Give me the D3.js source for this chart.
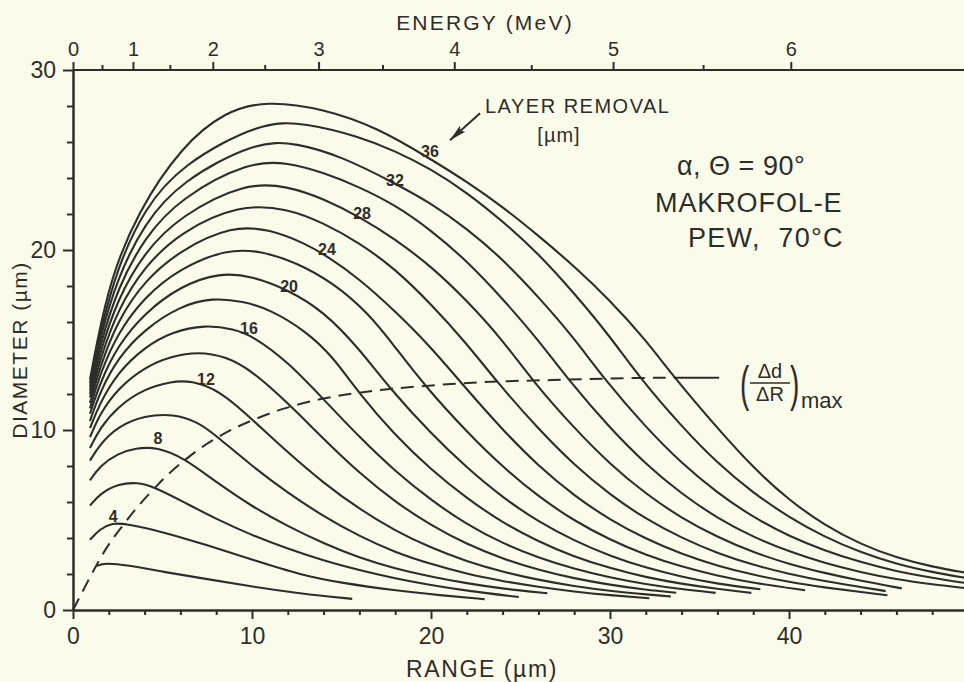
<!DOCTYPE html>
<html>
<head>
<meta charset="utf-8">
<script src="https://cdn.jsdelivr.net/npm/d3@7"></script>
<style>
    html, body { margin: 0; padding: 0; background: #fbfbec; }
    svg { display: block; }
    text { font-family: "Liberation Sans", Arial, sans-serif; fill: #2e2e28; }
    .axis path, .axis line { stroke: #2e2e28; stroke-width: 2; }
    .axis text { font-size: 23px; fill: #2e2e28; }
</style>
</head>
<body>
<div id="chart"></div>
<script>
// Axis ticks
const rangeTicks = [0, 10, 20, 30, 40];
const rangeMinor = [2, 4, 6, 8, 12, 14, 16, 18, 22, 24, 26, 28, 32, 34, 36, 38, 42, 44, 46, 48];
const diamTicks = [0, 10, 20, 30];
const diamMinor = [2, 4, 6, 8, 12, 14, 16, 18, 22, 24, 26, 28];

// Energy (MeV) vs range (um)
const energyMeV = [0, 0.5, 1, 1.5, 2, 2.5, 3, 3.5, 4, 4.5, 5, 5.5, 6];
const energyRange = [0, 1.62, 3.35, 5.41, 7.81, 10.71, 13.72, 17.29, 21.3, 25.6, 30.17, 35.2, 40.1];
const energyMajor = [0, 1, 2, 3, 4, 5, 6];
const energyMinor = [0.5, 1.5, 2.5, 3.5, 4.5, 5.5];

// Layer removal (um) for each curve
const layers = [2, 4, 6, 8, 10, 12, 14, 16, 18, 20, 22, 24, 26, 28, 30, 32, 34, 36];

// Curves: [range um, diameter um]
const curve2 = [[1.3,2.45],[1.8,2.62],[3,2.5],[5,2.12],[7.5,1.72],[10,1.3],[12.7,0.92],[14,0.78],[15.6,0.62]];
const curve4 = [[0.95,3.9],[1.5,4.5],[2.2,4.85],[3,4.78],[5,4.35],[7.5,3.6],[10,2.8],[12.7,1.95],[15,1.5],[18,1.08],[20.5,0.82],[23,0.6]];
const curve6 = [[0.95,5.8],[1.5,6.45],[2.5,7.0],[3.6,7.1],[4.5,6.85],[6,6.1],[8,5.05],[10,4.15],[12,3.4],[14,2.75],[16,2.2],[18,1.75],[20,1.38],[22,1.07],[24.9,0.72]];
const curve8 = [[0.95,7.2],[1.5,8.0],[2.5,8.7],[3.5,9.0],[4.7,9.05],[6.2,8.45],[8,7.1],[10,5.75],[12,4.65],[14,3.7],[16,2.9],[18,2.3],[20,1.85],[22,1.48],[24,1.18],[26.5,0.93]];
const curve10 = [[0.95,8.3],[1.5,9.2],[2.5,10.2],[4,10.8],[5.6,10.9],[7,10.45],[8.1,9.6],[10,8.0],[12,6.5],[14,5.2],[16,4.1],[18,3.2],[20,2.55],[22,2.0],[24,1.6],[26,1.28],[28,1.02],[30,0.82],[32.2,0.65]];
const curve12 = [[0.95,9.0],[1.5,10.1],[2.5,11.3],[4,12.3],[5.5,12.7],[6.6,12.75],[8.2,12.2],[10,10.6],[12,8.75],[14,7.05],[16,5.6],[18,4.4],[20,3.45],[22,2.7],[24,2.12],[26,1.67],[28,1.32],[30,1.05],[33.4,0.75]];
const curve14 = [[0.95,9.6],[1.5,10.9],[2.5,12.3],[4,13.5],[5.5,14.1],[7,14.35],[8.5,14.1],[10,13.3],[12,11.5],[14,9.5],[16,7.6],[18,6.0],[20,4.7],[22,3.65],[24,2.85],[26,2.22],[28,1.75],[30,1.4],[32,1.12],[33.7,0.96]];
const curve16 = [[0.95,10.1],[1.5,11.5],[2.5,13.2],[4,14.6],[5.5,15.45],[7.4,15.85],[9,15.6],[10,15.25],[12,13.8],[14,11.7],[16,9.6],[18,7.7],[20,6.1],[22,4.75],[24,3.7],[26,2.9],[28,2.28],[30,1.8],[32,1.43],[34,1.15],[35.9,0.95]];
const curve18 = [[0.95,10.5],[1.5,12.1],[2.5,14.0],[4,15.6],[6,16.9],[7.8,17.35],[9.5,17.15],[11,16.7],[13,15.5],[14.5,14.1],[16,12.0],[18,9.7],[20,7.8],[22,6.2],[24,4.85],[26,3.8],[28,2.95],[30,2.32],[32,1.82],[34,1.45],[36,1.17],[37.9,0.95]];
const curve20 = [[0.95,10.9],[1.5,12.6],[2.5,14.7],[4,16.5],[6,18.0],[8.2,18.75],[10,18.55],[12,17.8],[14,16.6],[16,14.5],[17.7,12.3],[20,9.8],[22,7.9],[24,6.25],[26,4.9],[28,3.85],[30,3.0],[32,2.35],[34,1.85],[36,1.45],[38.4,1.15]];
const curve22 = [[0.95,11.2],[1.5,13.1],[2.5,15.4],[4,17.4],[6,19.0],[8.6,20.05],[10.5,19.95],[12.5,19.3],[14.5,18.2],[16.5,16.5],[18,14.6],[19.7,12.4],[22,9.9],[24,7.95],[26,6.3],[28,4.95],[30,3.9],[32,3.05],[34,2.4],[36,1.9],[38,1.5],[40.9,1.1]];
const curve24 = [[0.95,11.5],[1.5,13.5],[2.5,16.1],[4,18.3],[6,20.0],[8.9,21.35],[11,21.15],[13,20.35],[14.2,19.65],[16,18.4],[18,16.6],[20,14.6],[21.7,12.6],[24,10.0],[26,8.0],[28,6.35],[30,5.0],[32,3.95],[34,3.1],[36,2.45],[38,1.95],[40,1.55],[42,1.25],[44,1.0],[45.5,0.82]];
const curve26 = [[0.95,11.8],[1.5,13.9],[2.5,16.7],[4,19.1],[6,21.0],[9.3,22.55],[12,22.3],[14,21.5],[16,20.4],[18,18.95],[20,17.0],[22,14.8],[23.7,12.65],[26,10.05],[28,8.05],[30,6.4],[32,5.05],[34,4.0],[36,3.15],[38,2.5],[40,2.0],[42,1.6],[44,1.28],[45.4,1.05]];
const curve28 = [[0.95,12.0],[1.5,14.3],[2.5,17.3],[4,19.9],[6,21.9],[9.6,23.75],[12,23.55],[14,22.85],[16.1,21.8],[18,20.6],[20,19.1],[22,17.2],[24,15.0],[25.7,12.7],[28,10.1],[30,8.1],[32,6.45],[34,5.1],[36,4.05],[38,3.2],[40,2.55],[42,2.05],[44,1.62],[46.3,1.2]];
const curve30 = [[0.95,12.2],[1.5,14.7],[2.5,17.9],[4,20.7],[6,22.9],[9.9,24.95],[12,24.85],[14,24.3],[16,23.5],[18,22.5],[20,21.1],[22,19.4],[24,17.3],[26,15.0],[27.7,12.75],[30,10.1],[32,8.1],[34,6.45],[36,5.1],[38,4.05],[40,3.25],[42,2.6],[44,2.1],[46,1.7],[48,1.42],[50,1.2]];
const curve32 = [[0.95,12.4],[1.5,15.1],[2.5,18.5],[4,21.5],[6,23.8],[10.2,26.05],[12.5,25.95],[15,25.2],[18,23.7],[20,22.6],[22,21.2],[24,19.5],[26,17.4],[28,15.1],[29.7,12.8],[32,10.15],[34,8.15],[36,6.5],[38,5.15],[40,4.1],[42,3.3],[44,2.65],[46,2.15],[48,1.78],[50,1.48]];
const curve34 = [[0.95,12.6],[1.5,15.4],[2.5,19.1],[4,22.3],[6,24.7],[10.5,27.15],[13,27.05],[16,26.3],[18,25.5],[20,24.5],[22,23.2],[24,21.6],[26,19.8],[28,17.6],[30,15.2],[31.7,12.85],[34,10.2],[36,8.15],[38,6.5],[40,5.15],[42,4.05],[44,3.2],[46,2.55],[48,2.1],[50,1.76]];
const curve36 = [[0.95,12.8],[1.3,14.7],[2.1,18.4],[3.6,22.1],[6.1,25.8],[8.5,27.7],[10.8,28.3],[14,27.85],[17,26.8],[19.9,25.1],[22,23.8],[24,22.4],[26,20.8],[28,19.1],[30,17.2],[32,15.0],[33.6,12.9],[36,10.1],[38,7.9],[40,6.1],[42,4.7],[44,3.65],[46,2.9],[48,2.4],[50,2.05]];

const curves = [curve2, curve4, curve6, curve8, curve10, curve12, curve14, curve16, curve18,
                curve20, curve22, curve24, curve26, curve28, curve30, curve32, curve34, curve36];

// (dd/dR)max locus, dashed, then a short solid leader
const maxSlope = [[0,0],[0.7,1.35],[1.34,2.56],[2.0,3.7],[2.79,4.7],[3.6,5.75],[4.46,6.67],[5.3,7.55],[6.24,8.33],[7.1,9.0],[8.09,9.61],[9.0,10.1],[10.04,10.56],[11.7,11.2],[13.8,11.75],[15.8,12.05],[17.7,12.3],[19.7,12.45],[21.7,12.6],[23.7,12.7],[25.7,12.75],[27.7,12.8],[29.7,12.85],[31.7,12.9],[33.8,12.9]];
const maxSlopeLeader = [[33.8,12.9],[36.1,12.9]];

// Curve labels (layer removal) and where they sit
const labelLayers = [4, 8, 12, 16, 20, 24, 28, 32, 36];
const labelRange = [2.24, 4.75, 7.43, 9.83, 12.07, 14.19, 16.15, 17.99, 19.94];
const labelDiam = [5.22, 9.56, 12.83, 15.67, 18.0, 20.06, 22.05, 23.9, 25.5];

const width = 964;
const height = 682;
const ink = '#2e2e28';

function draw() {
    const svg = d3.select('#chart')
        .append('svg')
        .attr('width', width)
        .attr('height', height);

    svg.append('rect').attr('width', width).attr('height', height).attr('fill', '#fbfbec');

    const x = d3.scaleLinear().domain([0, 50]).range([73, 968]);
    const y = d3.scaleLinear().domain([0, 30]).range([610, 70]);
    const energy = d3.scaleLinear().domain(energyMeV).range(energyRange.map(x));

    // bottom axis
    svg.append('g').attr('class', 'axis')
        .attr('transform', `translate(0,${y(0)})`)
        .call(d3.axisBottom(x).tickValues(rangeMinor).tickSize(5).tickSizeOuter(0).tickFormat(''));
    svg.append('g').attr('class', 'axis')
        .attr('transform', `translate(0,${y(0)})`)
        .call(d3.axisBottom(x).tickValues(rangeTicks).tickSize(9).tickSizeOuter(0).tickPadding(9));

    // left axis
    svg.append('g').attr('class', 'axis')
        .attr('transform', `translate(${x(0)},0)`)
        .call(d3.axisLeft(y).tickValues(diamMinor).tickSize(6).tickSizeOuter(0).tickFormat(''));
    svg.append('g').attr('class', 'axis')
        .attr('transform', `translate(${x(0)},0)`)
        .call(d3.axisLeft(y).tickValues(diamTicks).tickSize(10).tickSizeOuter(0).tickPadding(7));

    // top axis (energy)
    svg.append('line')
        .attr('x1', x(0)).attr('x2', x(50))
        .attr('y1', y(30)).attr('y2', y(30))
        .attr('stroke', ink).attr('stroke-width', 2);
    const topMinor = svg.append('g').attr('class', 'axis')
        .attr('transform', `translate(0,${y(30)})`)
        .call(d3.axisTop(energy).tickValues(energyMinor).tickSize(5).tickSizeOuter(0).tickFormat(''));
    const topMajor = svg.append('g').attr('class', 'axis')
        .attr('transform', `translate(0,${y(30)})`)
        .call(d3.axisTop(energy).tickValues(energyMajor).tickSize(8).tickSizeOuter(0).tickPadding(6).tickFormat(d3.format('d')));
    topMinor.select('.domain').remove();
    topMajor.select('.domain').remove();
    topMajor.selectAll('text').style('font-size', '20px');

    // axis titles
    svg.append('text')
        .attr('x', 482).attr('y', 677)
        .attr('text-anchor', 'middle')
        .style('font-size', '23px').style('letter-spacing', '1.6px')
        .text('RANGE (µm)');
    svg.append('text')
        .attr('x', 485).attr('y', 30)
        .attr('text-anchor', 'middle')
        .style('font-size', '21px').style('letter-spacing', '2.2px')
        .text('ENERGY (MeV)');
    svg.append('text')
        .attr('transform', 'translate(27,350) rotate(-90)')
        .attr('text-anchor', 'middle')
        .style('font-size', '21px').style('letter-spacing', '1.5px')
        .text('DIAMETER (µm)');

    // curves, smoothed like the hand-drawn originals
    const line = d3.line()
        .x(d => x(d[0]))
        .y(d => y(d[1]))
        .curve(d3.curveBasis);

    svg.append('g')
        .selectAll('path')
        .data(curves)
        .enter()
        .append('path')
        .attr('d', line)
        .attr('fill', 'none')
        .attr('stroke', ink)
        .attr('stroke-width', 2.1);

    // max slope locus
    svg.append('path')
        .attr('d', line(maxSlope))
        .attr('fill', 'none')
        .attr('stroke', ink)
        .attr('stroke-width', 2)
        .attr('stroke-dasharray', '13,8');
    svg.append('path')
        .attr('d', d3.line().x(d => x(d[0])).y(d => y(d[1]))(maxSlopeLeader))
        .attr('fill', 'none')
        .attr('stroke', ink)
        .attr('stroke-width', 2);

    // curve labels
    svg.append('g')
        .selectAll('text')
        .data(labelLayers)
        .enter()
        .append('text')
        .attr('x', (d, i) => x(labelRange[i]))
        .attr('y', (d, i) => y(labelDiam[i]) + 6)
        .attr('text-anchor', 'middle')
        .style('font-size', '16px')
        .style('font-weight', 'bold')
        .text(d => d);

    addAnnotations(svg, x, y);
}

function addAnnotations(svg, x, y) {
    // LAYER REMOVAL + arrow
    svg.append('text')
        .attr('x', 485).attr('y', 113)
        .style('font-size', '20px').style('letter-spacing', '1.5px')
        .text('LAYER REMOVAL');
    svg.append('text')
        .attr('x', 559).attr('y', 142)
        .attr('text-anchor', 'middle')
        .style('font-size', '20px').style('letter-spacing', '1px')
        .text('[µm]');

    const x1 = x(22.74), y1 = y(27.6), x2 = x(21.06), y2 = y(26.1);
    const ang = Math.atan2(y2 - y1, x2 - x1) * 180 / Math.PI;
    svg.append('line')
        .attr('x1', x1).attr('y1', y1).attr('x2', x2).attr('y2', y2)
        .attr('stroke', ink).attr('stroke-width', 2);
    svg.append('path')
        .attr('d', 'M0,0 L-17,-4 L-14,0 L-17,4 Z')
        .attr('transform', `translate(${x2},${y2}) rotate(${ang})`)
        .attr('fill', ink);

    // sample conditions
    svg.append('text')
        .attr('x', 677).attr('y', 175)
        .style('font-size', '27px').style('letter-spacing', '0.5px')
        .text('α, Θ = 90°');
    svg.append('text')
        .attr('x', 655).attr('y', 212)
        .style('font-size', '27px').style('letter-spacing', '0.9px')
        .text('MAKROFOL-E');
    svg.append('text')
        .attr('x', 688).attr('y', 247)
        .style('font-size', '27px').style('letter-spacing', '1.3px')
        .text('PEW,\u00a0 70°C');

    // (Δd/ΔR)max
    svg.append('text')
        .attr('transform', 'translate(740,401) scale(1,1.8)')
        .style('font-size', '28px')
        .text('(');
    svg.append('text')
        .attr('x', 770).attr('y', 378)
        .attr('text-anchor', 'middle')
        .style('font-size', '20px')
        .text('Δd');
    svg.append('line')
        .attr('x1', 750).attr('x2', 790)
        .attr('y1', 383).attr('y2', 383)
        .attr('stroke', ink).attr('stroke-width', 1.6);
    svg.append('text')
        .attr('x', 770).attr('y', 401)
        .attr('text-anchor', 'middle')
        .style('font-size', '20px')
        .text('ΔR');
    svg.append('text')
        .attr('transform', 'translate(790,401) scale(1,1.8)')
        .style('font-size', '28px')
        .text(')');
    svg.append('text')
        .attr('x', 801).attr('y', 408)
        .style('font-size', '22px')
        .text('max');
}

document.addEventListener('DOMContentLoaded', draw);
</script>
</body>
</html>
